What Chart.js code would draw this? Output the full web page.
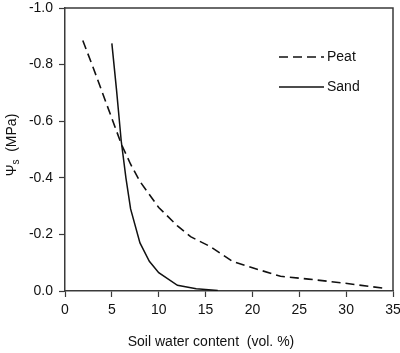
<!DOCTYPE html>
<html>
<head>
<meta charset="utf-8">
<script src="https://cdn.jsdelivr.net/npm/chart.js@4.4.1/dist/chart.umd.min.js"></script>
<style>
html,body{margin:0;padding:0;background:#fff;}
#wrap{width:400px;height:353px;position:relative;}
</style>
</head>
<body>
<div id="wrap"><canvas id="c" width="400" height="353"></canvas></div>
<script>
// Data
const peatX = [1.9, 3, 4, 5, 6, 7, 8, 10, 12, 13.4, 15.5, 17.9, 20, 23, 26, 29.5, 34.2];
const peatY = [-0.885, -0.79, -0.70, -0.61, -0.52, -0.448, -0.387, -0.295, -0.23, -0.192, -0.157, -0.104, -0.082, -0.052, -0.042, -0.029, -0.009];
const sandX = [5.0, 5.5, 6.0, 6.5, 7.0, 8.0, 9.0, 10.0, 12.0, 14.0, 16.3];
const sandY = [-0.875, -0.71, -0.53, -0.40, -0.29, -0.17, -0.105, -0.065, -0.02, -0.008, -0.002];
const seriesNames = ["Peat", "Sand"];
const xTicks = [0, 5, 10, 15, 20, 25, 30, 35];
const yTicks = [-1.0, -0.8, -0.6, -0.4, -0.2, 0.0];
const xTitle = "Soil water content  (vol. %)";
const yTitleMain = "\u03A8";
const yTitleSub = "s";
const yTitleRest = "  (MPa)";

const FONT = "'Liberation Sans', Arial, sans-serif";
const AXIS_COLOR = "#3a3a3a";
const TEXT_COLOR = "#111";

const toPts = (xs, ys) => xs.map((x, i) => ({x: x, y: ys[i]}));

const framePlugin = {
  id: 'frame',
  afterDraw(chart) {
    const {ctx, chartArea: a} = chart;
    ctx.save();
    ctx.strokeStyle = AXIS_COLOR;
    ctx.lineWidth = 1.5;
    ctx.beginPath();
    ctx.moveTo(a.left, a.top);
    ctx.lineTo(a.right, a.top);
    ctx.lineTo(a.right, a.bottom);
    ctx.stroke();

    // x title
    ctx.fillStyle = TEXT_COLOR;
    ctx.font = "14px " + FONT;
    ctx.textAlign = 'center';
    ctx.textBaseline = 'middle';
    ctx.fillText(xTitle, 211, 342);

    // y title with subscript
    ctx.save();
    ctx.translate(11, 145);
    ctx.rotate(-Math.PI / 2);
    ctx.font = "14px " + FONT;
    const w1 = ctx.measureText(yTitleMain).width;
    const w3 = ctx.measureText(yTitleRest).width;
    ctx.font = "10px " + FONT;
    const w2 = ctx.measureText(yTitleSub).width;
    const total = w1 + w2 + w3;
    let x = -total / 2;
    ctx.textAlign = 'left';
    ctx.textBaseline = 'alphabetic';
    ctx.font = "14px " + FONT;
    ctx.fillText(yTitleMain, x, 5);
    x += w1;
    ctx.font = "10px " + FONT;
    ctx.fillText(yTitleSub, x, 8);
    x += w2;
    ctx.font = "14px " + FONT;
    ctx.fillText(yTitleRest, x, 5);
    ctx.restore();

    // legend
    const items = chart.data.datasets;
    const ys = [57, 87];
    items.forEach((ds, i) => {
      ctx.save();
      ctx.strokeStyle = ds.borderColor;
      ctx.lineWidth = ds.borderWidth;
      ctx.setLineDash(ds.borderDash || []);
      ctx.beginPath();
      ctx.moveTo(279, ys[i]);
      ctx.lineTo(324, ys[i]);
      ctx.stroke();
      ctx.restore();
      ctx.fillStyle = TEXT_COLOR;
      ctx.font = "14px " + FONT;
      ctx.textAlign = 'left';
      ctx.textBaseline = 'middle';
      ctx.fillText(ds.label, 327, ys[i]);
    });
    ctx.restore();
  }
};

new Chart(document.getElementById('c'), {
  type: 'scatter',
  data: {
    datasets: [
      {
        label: seriesNames[0],
        data: toPts(peatX, peatY),
        showLine: true,
        borderColor: '#111',
        borderWidth: 1.6,
        borderDash: [9, 5],
        pointRadius: 0,
        fill: false,
        tension: 0
      },
      {
        label: seriesNames[1],
        data: toPts(sandX, sandY),
        showLine: true,
        borderColor: '#111',
        borderWidth: 1.5,
        pointRadius: 0,
        fill: false,
        tension: 0
      }
    ]
  },
  options: {
    responsive: false,
    animation: false,
    layout: {padding: {top: 0, right: 0, left: 0, bottom: 0}},
    plugins: {legend: {display: false}, tooltip: {enabled: false}},
    scales: {
      x: {
        type: 'linear',
        min: 0, max: 35,
        afterBuildTicks: (s) => { s.ticks = xTicks.map(v => ({value: v})); },
        afterFit: (s) => { s.height = 62; s.paddingRight = 7; },
        grid: {drawOnChartArea: false, drawTicks: true, tickLength: 6, tickColor: AXIS_COLOR, tickWidth: 1.2},
        border: {display: true, color: AXIS_COLOR, width: 1.5},
        ticks: {color: TEXT_COLOR, font: {family: FONT, size: 14}, padding: 5, maxRotation: 0,
                callback: (v) => String(v)}
      },
      y: {
        type: 'linear',
        reverse: true,
        min: -1, max: 0,
        afterBuildTicks: (s) => { s.ticks = yTicks.map(v => ({value: v})); },
        afterFit: (s) => { s.width = 65; s.paddingTop = 8; },
        grid: {drawOnChartArea: false, drawTicks: true, tickLength: 6, tickColor: AXIS_COLOR, tickWidth: 1.2},
        border: {display: true, color: AXIS_COLOR, width: 1.5},
        ticks: {color: TEXT_COLOR, font: {family: FONT, size: 14}, padding: 6,
                callback: (v) => Number(v).toFixed(1)}
      }
    }
  },
  plugins: [framePlugin]
});
</script>
</body>
</html>
